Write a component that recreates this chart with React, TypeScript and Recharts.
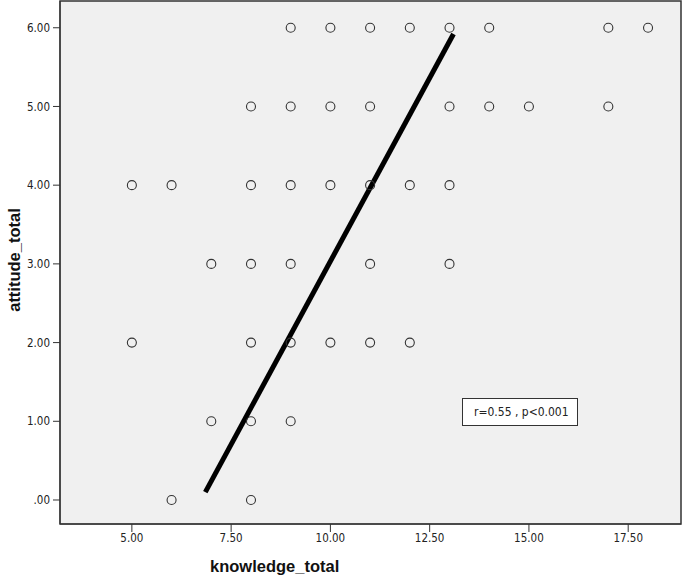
import { ScatterChart, Scatter, XAxis, YAxis, CartesianGrid, ReferenceLine, ReferenceArea } from "recharts"

// each point: knowledge_total (x) paired with attitude_total (y)
const knowledgeTotal = [
  9, 10, 11, 12, 13, 14, 17, 18,
  8, 9, 10, 11, 13, 14, 15, 17,
  5, 6, 8, 9, 10, 11, 12, 13,
  7, 8, 9, 11, 13,
  5, 8, 9, 10, 11, 12,
  7, 8, 9,
  6, 8,
]
const attitudeTotal = [
  6, 6, 6, 6, 6, 6, 6, 6,
  5, 5, 5, 5, 5, 5, 5, 5,
  4, 4, 4, 4, 4, 4, 4, 4,
  3, 3, 3, 3, 3,
  2, 2, 2, 2, 2, 2,
  1, 1, 1,
  0, 0,
]

const xTicks = [5, 7.5, 10, 12.5, 15, 17.5]
const yTicks = [0, 1, 2, 3, 4, 5, 6]
const xDomain = [3.19, 18.83]
const yDomain = [-0.305, 6.34]

// fit line drawn in the figure
const fitLine = [
  { x: 6.85, y: 0.1 },
  { x: 13.1, y: 5.92 },
]

const annotation = "r=0.55 , p<0.001"

const points = knowledgeTotal.map((k, i) => ({ knowledge: k, attitude: attitudeTotal[i] }))

const fmt = (v: number) => (v === 0 ? ".00" : v.toFixed(2))

const FONT = "'DejaVu Sans Condensed', 'DejaVu Sans', sans-serif"
const BOLD = "'Liberation Sans', Arial, sans-serif"

function Ring(props: any) {
  return <circle cx={props.cx} cy={props.cy} r={4.5} fill="none" stroke="#333" strokeWidth={1.1} />
}

export default function App() {
  return (
    <div style={{ position: "absolute", left: 0, top: 0, width: 685, height: 576, background: "#fff" }}>
      <ScatterChart width={685} height={576} margin={{ top: 1, right: 4, bottom: 0, left: 0 }}>
        <CartesianGrid horizontal={false} vertical={false} fill="#f0f0f0" />
        <XAxis
          type="number"
          dataKey="knowledge"
          domain={xDomain}
          ticks={xTicks}
          allowDataOverflow
          tickFormatter={fmt}
          height={52}
          tickSize={8}
          tickMargin={2}
          stroke="#333"
          tick={{ fontSize: 11.5, fill: "#222", fontFamily: FONT }}
        />
        <YAxis
          type="number"
          dataKey="attitude"
          domain={yDomain}
          ticks={yTicks}
          allowDataOverflow
          tickFormatter={fmt}
          width={60}
          tickSize={7}
          tickMargin={3}
          stroke="#333"
          tick={{ fontSize: 11.5, fill: "#222", fontFamily: FONT }}
        />
        <ReferenceArea
          x1={xDomain[0]} x2={xDomain[1]} y1={yDomain[0]} y2={yDomain[1]}
          fill="none" fillOpacity={0} stroke="#333" strokeWidth={1.5} ifOverflow="visible"
        />
        <Scatter data={points} shape={Ring} isAnimationActive={false} />
        <ReferenceLine
          segment={fitLine}
          stroke="#000"
          strokeWidth={5}
          ifOverflow="visible"
        />
      </ScatterChart>

      <div
        style={{
          position: "absolute", left: 462, top: 398, width: 116, height: 28,
          boxSizing: "border-box", border: "1px solid #333", background: "#fff",
          fontFamily: FONT, fontSize: 12, color: "#222",
          display: "flex", alignItems: "center", paddingLeft: 11,
        }}
      >
        {annotation}
      </div>

      <div
        style={{
          position: "absolute", left: 210, top: 566, transform: "translateY(-50%)",
          fontFamily: BOLD, fontWeight: "bold", fontSize: 16.5, color: "#111", whiteSpace: "nowrap",
        }}
      >
        knowledge_total
      </div>
      <div
        style={{
          position: "absolute", left: 14, top: 260, transform: "translate(-50%, -50%) rotate(-90deg)",
          fontFamily: BOLD, fontWeight: "bold", fontSize: 16.5, color: "#111", whiteSpace: "nowrap",
        }}
      >
        attitude_total
      </div>
    </div>
  )
}
